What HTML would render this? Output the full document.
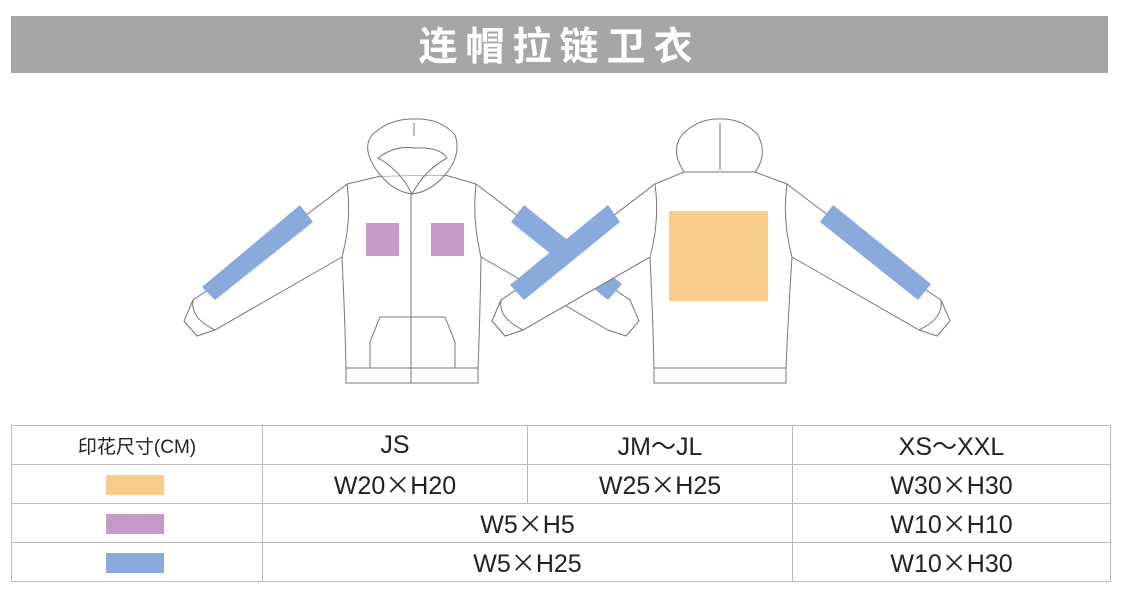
<!DOCTYPE html>
<html><head><meta charset="utf-8"><style>
body{margin:0;width:1122px;height:600px;background:#fff;position:relative;overflow:hidden;font-family:"Liberation Sans","Noto Sans CJK SC",sans-serif}
.hdr{position:absolute;left:11px;top:16px;width:1097px;height:57px;background:#a6a6a6;color:#fff;font-size:39px;font-weight:bold;text-align:center;line-height:57px;letter-spacing:8px;font-family:"Noto Sans CJK SC",sans-serif}
table{position:absolute;left:11px;top:425px;border-collapse:collapse;width:1100px}
td{border:1px solid #bbb;height:38px;text-align:center;font-size:25px;color:#222;padding:0}
.x{font-family:"Noto Sans CJK SC",sans-serif}
.sw{display:inline-block;width:58px;height:20px;vertical-align:middle;margin-right:4px}
</style></head><body>
<div class="hdr">连帽拉链卫衣</div>
<svg width="1122" height="420" style="position:absolute;left:0;top:0" fill="none" stroke="#777" stroke-width="1">
<g>
<path d="M347,184 L208,290 L193,300 L184,321 L197,336 L215,330 L342,257" fill="#fff"/>
<path d="M193,300 Q190,318 215,330"/>
<path d="M476,184 L615,290 L630,300 L639,321 L626,336 L608,330 L481,257" fill="#fff"/>
<path d="M347,184 Q352,220 342,257 Q345,320 346,368 L478,368 Q480,320 481,257 Q472,220 476,184 L445,175 L381,176 Z" fill="#fff"/>
<rect x="346" y="368" width="132" height="15" fill="#fff"/>
<path d="M381,176 Q360,150 372,135 Q390,118 415,119 Q440,118 455,135 Q462,155 445,175" fill="#fff"/>
<path d="M378,158 Q395,145 415,148 Q440,147 447,158 Q425,170 412,194 Q400,170 378,158Z"/>
<path d="M381,176 Q395,192 412,194 Q430,192 445,175"/>
<line x1="414" y1="123" x2="414" y2="136"/>
<line x1="411" y1="194" x2="411" y2="383"/>
<path d="M370,368 L370,342 L380,317 L445,317 L455,342 L455,368"/>
</g>
<g>
<path d="M655,184 L516,290 L501,300 L492,321 L505,336 L523,330 L650,257" fill="#fff"/>
<path d="M501,300 Q498,318 523,330"/>
<path d="M787,184 L926,290 L941,300 L950,321 L937,336 L919,330 L792,257" fill="#fff"/>
<path d="M941,300 Q944,318 919,330"/>
<path d="M655,184 Q660,220 650,257 Q653,320 654,368 L786,368 Q788,320 792,257 Q782,220 787,184 L755,172 L684,172 Z" fill="#fff"/>
<rect x="654" y="368" width="132" height="15" fill="#fff"/>
<path d="M684,172 Q670,150 682,135 Q698,118 720,119 Q742,118 758,135 Q768,155 755,172 Z" fill="#fff"/>
<line x1="720" y1="123" x2="720" y2="170"/>
</g>
<g stroke="none">
<polygon points="202,287 300,205 313,222 215,300" fill="#8aaadb"/>
<polygon points="511,222 524,205 622,284 608,300" fill="#8aaadb"/>
</g>
<path d="M655,184 L516,290 L501,300 L492,321 L505,336 L523,330 L650,257" fill="#fff"/>
<path d="M501,300 Q498,318 523,330"/>
<g stroke="none">
<polygon points="510,285 608,205 620,222 524,300" fill="#8aaadb"/>
<polygon points="820,222 833,205 931,284 918,300" fill="#8aaadb"/>
<rect x="366" y="223" width="33" height="33" fill="#c49bc6"/>
<rect x="431" y="223" width="33" height="33" fill="#c49bc6"/>
<rect x="669" y="211" width="99" height="90" fill="#f8cd8a"/>
</g>
</svg>
<table>
<tr><td style="width:250px;font-size:19px">印花尺寸(CM)</td><td style="width:264px">JS</td><td style="width:264px">JM<span class="x">～</span>JL</td><td>XS<span class="x">～</span>XXL</td></tr>
<tr><td><span class="sw" style="background:#f8cd8a"></span></td><td>W20<span class="x">×</span>H20</td><td>W25<span class="x">×</span>H25</td><td>W30<span class="x">×</span>H30</td></tr>
<tr><td><span class="sw" style="background:#c49bc6"></span></td><td colspan="2">W5<span class="x">×</span>H5</td><td>W10<span class="x">×</span>H10</td></tr>
<tr><td><span class="sw" style="background:#8aaadb"></span></td><td colspan="2">W5<span class="x">×</span>H25</td><td>W10<span class="x">×</span>H30</td></tr>
</table>
</body></html>
